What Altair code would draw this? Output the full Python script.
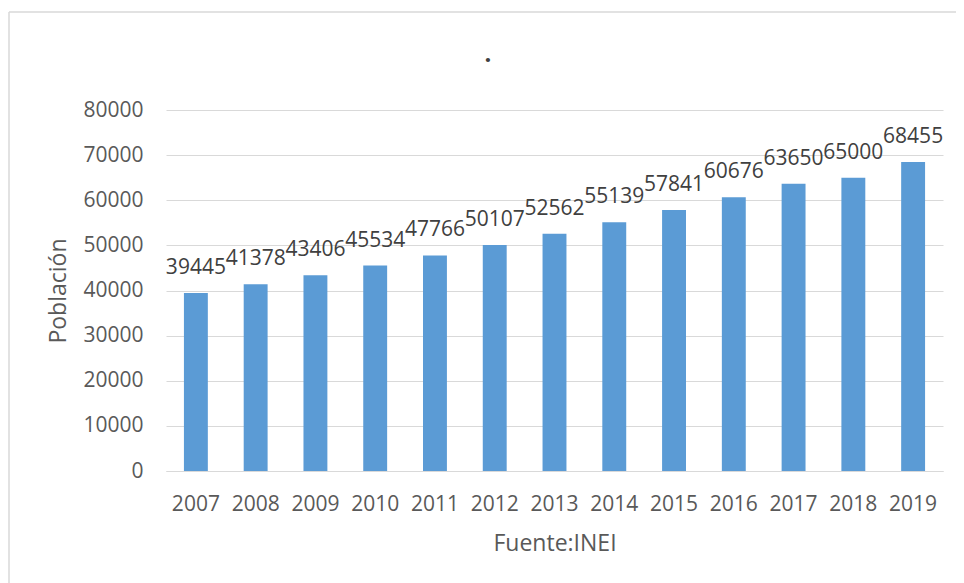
import altair as alt
import pandas as pd

years = ["2007", "2008", "2009", "2010", "2011", "2012", "2013",
         "2014", "2015", "2016", "2017", "2018", "2019"]
poblacion = [39445, 41378, 43406, 45534, 47766, 50107, 52562,
             55139, 57841, 60676, 63650, 65000, 68455]
y_ticks = [0, 10000, 20000, 30000, 40000, 50000, 60000, 70000, 80000]

df = pd.DataFrame({"year": years, "pob": poblacion})

FONT = "Open Sans"
W, H = 777, 361

base = alt.Chart(df)

bars = base.mark_bar(color="#5B9BD5").encode(
    x=alt.X("year:N", sort=years,
            scale=alt.Scale(paddingInner=0.6, paddingOuter=0.3),
            axis=alt.Axis(title="Fuente:INEI", labelAngle=0, ticks=False,
                          domainColor="#d9d9d9", domainWidth=1,
                          labelPadding=22, labelFontSize=21, labelColor="#595959",
                          labelFont=FONT, titleFont=FONT, titleFontSize=23,
                          titleColor="#595959", titleFontWeight="normal",
                          titleX=W / 2, titleY=72, titleBaseline="middle")),
    y=alt.Y("pob:Q", scale=alt.Scale(domain=[0, 80000]),
            axis=alt.Axis(title="Población", values=y_ticks, format="d",
                          ticks=False, domain=False, gridColor="#d9d9d9",
                          gridWidth=1, labelPadding=23, labelFontSize=21,
                          labelColor="#595959", labelFont=FONT, titleFont=FONT,
                          titleFontSize=23, titleColor="#595959",
                          titleFontWeight="normal", titleX=-108, titleY=H / 2,
                          titleBaseline="middle", titleAlign="center",
                          titleAngle=270)),
)

labels = base.mark_text(font=FONT, fontSize=21, color="#404040",
                        baseline="bottom", dy=-15).encode(
    x=alt.X("year:N", sort=years),
    y="pob:Q",
    text=alt.Text("pob:Q", format="d"),
)

one = alt.Chart(alt.Data(values=[{"a": 1}]))
frame_left = one.mark_rule(color="#d9d9d9", strokeWidth=1.5).encode(
    x=alt.value(-157), y=alt.value(-98), y2=alt.value(600))
frame_top = one.mark_rule(color="#d9d9d9", strokeWidth=1.5).encode(
    x=alt.value(-157), x2=alt.value(900), y=alt.value(-98))
title_dot = one.mark_text(text=".", font=FONT, fontSize=24, fontWeight="bold",
                          color="#404040", baseline="bottom").encode(
    x=alt.value(322), y=alt.value(-43))

chart = alt.layer(frame_left, frame_top, title_dot, bars, labels).properties(
    width=W, height=H,
    autosize=alt.AutoSizeParams(type="none"),
    padding={"left": 158, "top": 102, "right": 13, "bottom": 115},
    background="white",
).configure_view(stroke=None)

chart.save("out.html", embed_options={"renderer": "svg", "actions": False})
